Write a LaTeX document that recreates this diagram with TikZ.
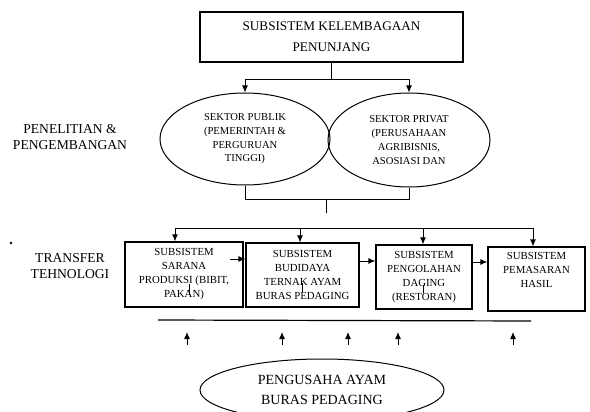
\documentclass[tikz,border=0pt]{standalone}
\usepackage{fontspec}
\setmainfont{Liberation Serif}
\usetikzlibrary{shapes.geometric,arrows.meta}
\begin{document}
\begin{tikzpicture}[x=1pt,y=-1pt,
  ln/.style={line width=1pt},
  arr/.style={line width=1pt,-{Latex[length=7pt,width=6pt]}},
  sbox/.style={draw,line width=1.1pt,inner sep=0pt,align=center,font=\fontsize{10.8}{14}\selectfont},
  oval/.style={draw,ellipse,line width=1pt,inner sep=0pt,align=center},
  lbl/.style={align=center,inner sep=0pt,font=\fontsize{13.6}{16.5}\selectfont}]
\useasboundingbox (0,0) rectangle (590,412);
% top box
\node[sbox,minimum width=263pt,minimum height=50pt,font=\fontsize{13.2}{21}\selectfont] (t) at (331.5,37) {SUBSISTEM KELEMBAGAAN\\PENUNJANG};
% ellipses
\node[oval,minimum width=170pt,minimum height=92pt,font=\fontsize{10.6}{13.7}\selectfont] (pub) at (245,139) {SEKTOR PUBLIK\\(PEMERINTAH \&\\PERGURUAN\\TINGGI)};
\node[oval,minimum width=162pt,minimum height=94pt,font=\fontsize{10.6}{13.7}\selectfont] (priv) at (409,140) {SEKTOR PRIVAT\\(PERUSAHAAN\\AGRIBISNIS,\\ASOSIASI DAN};
% left labels
\node[lbl] (pl) at (70,137) {PENELITIAN \&\\PENGEMBANGAN};
\node[lbl] (tl) at (70,266) {TRANSFER\\TEHNOLOGI};
\fill (11,243) circle (1.4pt);
% top connectors
\coordinate (j1) at (t.south |- 0,80);
\draw[ln] (t.south) -- (j1);
\draw[arr] (j1) -| (pub.north);
\draw[arr] (j1) -| (priv.north);
% connectors below ellipses
\coordinate (j2) at (pub.south |- 0,199);
\coordinate (j3) at (priv.south |- 0,199);
\draw[ln] (pub.south) -- (j2) -- (j3) -- (priv.south);
\coordinate (j4) at (326,199);
\coordinate (j5) at (326,213);
\draw[ln] (j4) -- (j5);
% subsystem boxes
\node[sbox,minimum width=118pt,minimum height=65pt] (b1) at (184,274.5) {SUBSISTEM\\SARANA\\PRODUKSI (BIBIT,\\PAKAN)};
\node[sbox,minimum width=113pt,minimum height=64pt] (b2) at (302.5,275) {SUBSISTEM\\BUDIDAYA\\TERNAK AYAM\\BURAS PEDAGING};
\node[sbox,minimum width=96pt,minimum height=64pt] (b3) at (424,277) {SUBSISTEM\\PENGOLAHAN\\DAGING\\(RESTORAN)};
\node[sbox,minimum width=97pt,minimum height=64pt] (b4) at (536.5,279) {SUBSISTEM\\PEMASARAN\\HASIL\\\strut};
% distribution line and arrows
\coordinate (d1) at (175,228);
\coordinate (d2) at (300,228);
\coordinate (d3) at (423,228);
\coordinate (d4) at (533,228);
\draw[ln] (d1) -- (d4);
\draw[arr] (d1) -- (d1 |- b1.north);
\draw[arr] (d2) -- (d2 |- b2.north);
\draw[arr] (d3) -- (d3 |- b3.north);
\draw[arr] (d4) -- (d4 |- b4.north);
% arrows between boxes
\coordinate (a1) at (230,259);
\draw[arr] (a1) -- (a1 -| b2.west);
\draw[arr] ([yshift=14pt]b2.east) -- ([yshift=14pt]b2.east -| b3.west);
\draw[arr] ([yshift=15pt]b3.east) -- ([yshift=15pt]b3.east -| b4.west);
% small ticks
\draw[line width=0.7pt] (189,284) -- (189,295);
\draw[line width=0.7pt] (302,283) -- (302,292);
\draw[line width=0.7pt] (423,285) -- (423,293);
% bottom line and up arrows
\coordinate (l1) at (158,320);
\coordinate (l2) at (531,321);
\draw[line width=1.2pt] (l1) -- (l2);
\foreach \x/\n in {187/u1,282/u2,348/u3,398/u4,513/u5}{
  \coordinate (\n) at (\x,345);
  \draw[arr] (\n) -- ++(0,-13);
}
% bottom ellipse
\node[oval,minimum width=244pt,minimum height=62pt,font=\fontsize{14}{20}\selectfont] (pe) at (322,390) {PENGUSAHA AYAM\\BURAS PEDAGING};
\end{tikzpicture}
\end{document}
